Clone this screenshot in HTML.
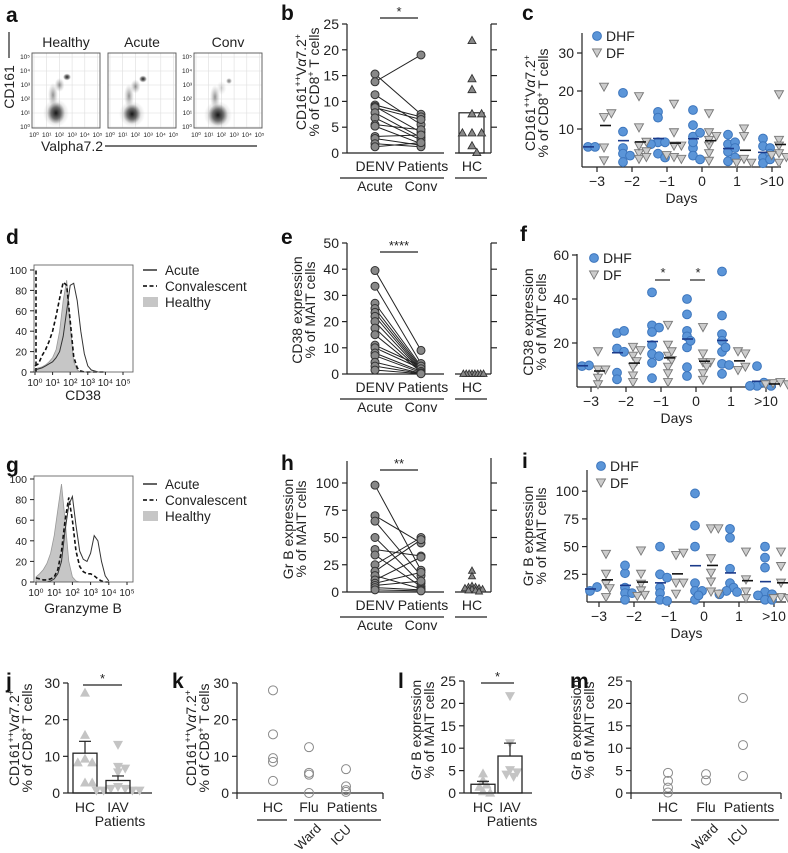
<!DOCTYPE html>
<html><head><meta charset="utf-8">
<style>
body{margin:0;background:#fff}
svg{display:block;font-family:"Liberation Sans",Arial,sans-serif}
</style></head>
<body>
<svg id="fig" width="788" height="853" viewBox="0 0 788 853">
<defs>
<radialGradient id="blob"><stop offset="0" stop-color="#111" stop-opacity="0.95"/><stop offset="0.55" stop-color="#333" stop-opacity="0.6"/><stop offset="1" stop-color="#666" stop-opacity="0"/></radialGradient>
<radialGradient id="blobL"><stop offset="0" stop-color="#444" stop-opacity="0.6"/><stop offset="1" stop-color="#888" stop-opacity="0"/></radialGradient>
</defs>
</svg>
<script>
// ---------- DATA ----------
const bAcute = [15.3,13.8,11.3,9.3,9,8.8,7.8,6.8,5.5,5.2,3.2,2.8,1.8,1.2];
const bConv  = [7.5,19,5.5,7,4,6.5,3,2.5,4.5,1.8,3.5,1.5,1.2,2];
const bHC    = [21.9,14.5,12.4,7.7,7.7,4,4,4,1.5,0.2];
const bTicks = [0,5,10,15,20,25];
const eAcute = [39.5,33.5,27,25,23.5,22,20,17.5,15,11,10,8,7,4.5,3,1.5];
const eConv  = [9,4,3,2.5,2,1.5,1.2,1,0.8,3,2,1,0.5,0.3,0.2,0.1];
const eHC    = [0.3,0.3,0.3,0.3,0.3,0.3,0.3,0.3];
const eTicks = [0,10,20,30,40,50];
const hAcute = [98,70,65,50,39,34,25,19,15,11,8,6,4,2];
const hConv  = [20,45,15,8,33,5,50,48,3,32,18,10,2,1];
const hHC    = [20,15,6,5,5,4,4,3,3,2,2,1];
const hTicks = [0,25,50,75,100];
const dayLabels = ["\u22123","\u22122","\u22121","0","1",">10"];
const cDHF = [[5.3,5.3],[19.5,9.3,5,3.5,1.3,3],[14.5,13,6.5,6.5,6,3.5,2.5],[15,11,8,9,5,3,2,6.5],[8.5,6,6.5,4,1.5,2.5,5],[7.5,5.5,5,2.5,1,3.5,2]];
const cDF  = [[21,13,14,5,1.6],[18.5,10.3,3.5,5.5,4,2,2.5,6.5],[16.5,9,5.5,5.5,2.5,2,3],[14,9,8,5.5,3.5,1.5,7],[10,8,2,1,1],[19,7,5.5,3.5,2.5,3,1]];
const cTicks = [10,20,30];
const fDHF = [[9.5,9.8],[24.5,25.5,17.5,16,6.5,3.5],[43,28,27,25,19,15,11,14,4],[40,33,25.5,23,18,5,9,21],[52.5,32.5,24,21,16,10.5,10,6,18],[9.5,0.5,2,0.5,0.5]];
const fDF  = [[16,7.7,7.7,4,1],[18,16.5,14,11.5,9,5,2],[28,19,14,12,9,6,2,16],[27,15,11,11,9,6,3],[16,15,7.5,9],[1.5,2,1,1]];
const fTicks = [20,40,60];
const iDHF = [[10,13.5],[26,33,13,8,8,2],[50,25,22,13,8,2,1],[98,69,50,17,10,10,2,6],[66,58,30,17,13,10,9,7],[50,40,31,9,7,6,2,2]];
const iDF  = [[25,43,4,16,12],[46,25,16,10,6,5],[42,44,17,17,7],[66,66,39,26,18,9,7],[45,20,9,3],[45,32,17,4,3,3]];
const iTicks = [25,50,75,100];
const dHealthy = [3,4,5,7,10,14,22,40,70,90,45,10,2,0,0,0,0,0,0,0,0];
const dConv    = [6,8,16,22,30,40,55,72,88,85,50,15,4,1,0,0,0,0,0,0,0];
const dAcute   = [2,3,4,6,8,10,14,20,35,60,85,87,70,40,18,6,2,1,0,0,0];
const gHealthy = [5,8,12,18,28,45,70,95,60,20,5,1,0,0,0,0,0,0,0,0,0];
const gConv    = [4,3,2,2,3,5,12,30,60,82,60,30,15,10,8,8,6,3,1,0,0];
const gAcute   = [0,0,0,0,1,3,8,20,50,75,83,55,30,22,20,28,45,40,20,6,1];
const histTicks = [0,20,40,60,80,100];
const jHC  = [27.5,16,9.5,8.5,8.5,3,3];
const jIAV = [13,7,6.5,5.5,1.5,1,1,0.5,0.5,0.5,0.5];
const kHC = [28,16,9.5,8.5,3.3];
const kWard = [12.5,5.5,5,0];
const kICU = [6.5,1.8,0.8,0.3];
const jTicks = [0,10,20,30];
const lHC  = [4.5,3,2,1.5,0.5,0.2];
const lIAV = [21.5,11,5,4.5,4,3.5];
const mHC = [4.5,2.7,1.2,0.1];
const mWard = [4.2,2.8];
const mICU = [21.2,10.7,3.8];
const lTicks = [0,5,10,15,20,25];

// ---------- HELPERS ----------
const NS='http://www.w3.org/2000/svg';
const svg=document.getElementById('fig');
function mk(tag,attrs,parent){const e=document.createElementNS(NS,tag);for(const k in attrs)e.setAttribute(k,attrs[k]);(parent||svg).appendChild(e);return e;}
function G(name){const g=mk('g',{});


return g;}
function T(p,x,y,s,o){o=o||{};const e=mk('text',{x:x,y:y,'font-size':o.fs||14,'text-anchor':o.a||'middle',fill:o.fill||'#222'},p);
if(o.rot)e.setAttribute('transform','rotate('+o.rot+' '+x+' '+y+')');
if(o.bold)e.setAttribute('font-weight','bold');
e.innerHTML=s;


return e;}
function L(p,x1,y1,x2,y2,o){o=o||{};const e=mk('line',{x1:x1,y1:y1,x2:x2,y2:y2,stroke:o.c||'#222','stroke-width':o.w||1.2},p);
if(o.dash)e.setAttribute('stroke-dasharray',o.dash);


return e;}
function tri(p,x,y,s,up,fill,stroke,name){const h=s*0.9;const d=up?`M${x-s/2},${y+h/2}L${x+s/2},${y+h/2}L${x},${y-h/2}Z`:`M${x-s/2},${y-h/2}L${x+s/2},${y-h/2}L${x},${y+h/2}Z`;
const e=mk('path',{d:d,fill:fill,stroke:stroke||'none','stroke-width':0.9},p);


return e;}
function dot(p,x,y,r,fill,stroke,name){const e=mk('circle',{cx:x,cy:y,r:r,fill:fill,stroke:stroke,'stroke-width':1},p);


return e;}
function swarm(cx,ys,r){const placed=[];const step=r*0.8;return ys.map(y=>{for(let s=0;s<30;s++){const off=s===0?0:(s%2?1:-1)*Math.ceil(s/2)*step;const x=cx+off;if(placed.every(q=>Math.hypot(q[0]-x,q[1]-y)>=r*1.2)){placed.push([x,y]);return x;}}placed.push([cx,y]);return cx;});}
const sup=s=>`<tspan baseline-shift="super" font-size="9">${s}</tspan>`;
const titleMAIT1='CD161'+sup('++')+'V<tspan font-style="italic">α</tspan>7.2'+sup('+');
const titleMAIT2='% of CD8'+sup('+')+' T cells';
function yAxis(p,ax,y0,k,ticks,top,labels){L(p,ax,y0,ax,top,{name:'y-axis'});ticks.forEach(t=>{const y=y0-t*k;L(p,ax-5,y,ax,y,{name:'y-tick'});if(labels!==false)T(p,ax-8,y+5,String(t),{a:'end',fs:14,name:'y-tick-label'});});}
function mean(a){return a.reduce((s,v)=>s+v,0)/a.length;}
function sem(a){const m=mean(a);return Math.sqrt(a.reduce((s,v)=>s+(v-m)*(v-m),0)/(a.length-1))/Math.sqrt(a.length);}

[['a',6,22],['b',281,20],['c',522,20],['d',6,244],['e',281,244],['f',520,241],['g',6,472],['h',281,470],['i',522,468],['j',6,688],['k',172,688],['l',398,688],['m',570,688]].forEach(l=>{const g=G('panel-letter-'+l[0]);T(g,l[1],l[2],l[0],{a:'start',fs:21,bold:true,fill:'#111',name:'panel-letter'});});

// ---------- PANEL A ----------
(function(){const g=G('panel-a-flow');
const boxes=[{x:32,t:'Healthy',lab:true,main:[56,113,9,11],mait:[67,77,4,3.5],sub:1},{x:108,t:'Acute',lab:false,main:[132,114,9,10],mait:[143,79,4,3.5],sub:1},{x:194,t:'Conv',lab:true,main:[218,115,10,11],mait:[229,81,3,3],sub:0.4}];
const sups=['⁰','¹','²','³','⁴','⁵'];
boxes.forEach(b=>{const w=68,top=53,bot=128;
for(let i=0;i<=5;i++){const gx=b.x+2+i*12.7;L(g,gx,top,gx,bot,{c:'#ddd',w:0.6,name:'grid-line'});const gy=127-i*14;L(g,b.x,gy,b.x+w,gy,{c:'#ddd',w:0.6,name:'grid-line'});
T(g,gx,137,'10'+sups[i],{fs:6.5,name:'x-tick-label'});if(b.lab)T(g,b.x-2,gy+2,'10'+sups[i],{fs:6.5,a:'end',name:'y-tick-label'});}
const r=mk('rect',{x:b.x,y:top,width:w,height:bot-top,fill:'none',stroke:'#555','stroke-width':0.9},g);


T(g,b.x+w/2,47,b.t,{fs:14,name:'flow-plot-title'});
const e1=mk('ellipse',{cx:b.main[0]-3,cy:b.main[1]-18,rx:5,ry:12,fill:'url(#blobL)'},g);


const e2=mk('ellipse',{cx:b.main[0],cy:b.main[1],rx:b.main[2]+4,ry:b.main[3]+3,fill:'url(#blobL)'},g);


const e3=mk('ellipse',{cx:b.main[0],cy:b.main[1],rx:b.main[2],ry:b.main[3],fill:'url(#blob)'},g);


const e4=mk('ellipse',{cx:(b.main[0]+b.mait[0])/2-2,cy:(b.main[1]-20+b.mait[1])/2,rx:5,ry:7,fill:'url(#blobL)',opacity:b.sub},g);


const e5=mk('ellipse',{cx:b.mait[0],cy:b.mait[1],rx:b.mait[2],ry:b.mait[3],fill:'url(#blob)',opacity:b.sub+0.2},g);

});
T(g,14,87,'CD161',{rot:-90,fs:14,name:'y-axis-title'});
L(g,9,32,9,58,{name:'y-axis-bar'});
T(g,72,151,'Valpha7.2',{fs:14,name:'x-axis-title'});
L(g,105,146,257,146,{name:'x-axis-bar'});})();

// ---------- PAIRED PANELS ----------
function paired(cfg){const g=G(cfg.name);const ax=347,xD=375,xP=421,xH=472,y0=cfg.y0,k=cfg.k;const Y=v=>y0-v*k;
yAxis(g,ax,y0,k,cfg.ticks,cfg.top);
L(g,ax,y0,444,y0,{name:'x-axis'});
L(g,455,y0,491,y0,{name:'hc-x-axis'});
L(g,491,y0,491,cfg.rtop,{name:'right-axis'});
cfg.ticks.forEach(t=>{if(Y(t)>=cfg.rtop-1&&t>0)L(g,491,Y(t),497,Y(t),{name:'right-tick'});});
if(cfg.bar){const r=mk('rect',{x:459,y:Y(mean(cfg.hc)),width:25,height:y0-Y(mean(cfg.hc)),fill:'none',stroke:'#222','stroke-width':1.2},g);

}
cfg.acute.forEach((v,i)=>{L(g,xD,Y(v),xP,Y(cfg.conv[i]),{w:1,name:'pair-line'});});
cfg.acute.forEach(v=>dot(g,xD,Y(v),4,'#888','#333','acute-point'));
cfg.conv.forEach(v=>dot(g,xP,Y(v),4,'#888','#333','conv-point'));
const hy=cfg.hc.map(Y);const hx=swarm(xH,hy,cfg.hcs||7);
hy.forEach((y,i)=>tri(g,hx[i],y,cfg.hcSize||8,true,'#888','#333','hc-point'));
L(g,380,cfg.sigY,418,cfg.sigY,{name:'significance-bar'});
T(g,399,cfg.sigY-2,cfg.stars,{fs:13,name:'significance-stars'});
const ly=y0+18;
T(g,xD,ly,'DENV',{name:'x-label'});T(g,xP+2,ly,'Patients',{name:'x-label'});T(g,xH,ly,'HC',{name:'x-label'});
L(g,340,ly+7,444,ly+7,{name:'group-bar'});L(g,455,ly+7,487,ly+7,{name:'group-bar'});
T(g,xD,ly+20,'Acute',{name:'group-label'});T(g,xP,ly+20,'Conv',{name:'group-label'});
T(g,cfg.tx,cfg.ty,cfg.t1,{rot:-90,fs:14,name:'y-axis-title'});
T(g,cfg.tx+13,cfg.ty,cfg.t2,{rot:-90,fs:14,name:'y-axis-title'});}
paired({name:'panel-b',y0:153,k:5.16,ticks:bTicks,top:24,rtop:24,acute:bAcute,conv:bConv,hc:bHC,bar:true,hcs:6,sigY:18,stars:'*',tx:306,ty:82,t1:titleMAIT1,t2:titleMAIT2});
paired({name:'panel-e',y0:374,k:2.62,ticks:eTicks,top:243,rtop:243,acute:eAcute,conv:eConv,hc:eHC,bar:false,hcs:1.8,hcSize:7,sigY:252,stars:'****',tx:302,ty:310,t1:'CD38 expression',t2:'% of MAIT cells'});
paired({name:'panel-h',y0:592,k:1.09,ticks:hTicks,top:461,rtop:458,acute:hAcute,conv:hConv,hc:hHC,bar:false,hcs:2.2,hcSize:7,sigY:470,stars:'**',tx:293,ty:529,t1:'Gr B expression',t2:'% of MAIT cells'});

// ---------- DAY PANELS ----------
function days(cfg){const g=G(cfg.name);const ax=cfg.ax,y0=cfg.y0,k=cfg.k;const Y=v=>y0-v*k;const X=i=>cfg.x0+i*35;
yAxis(g,ax,y0,k,cfg.ticks,cfg.top);
L(g,ax,y0,cfg.xend,y0,{name:'x-axis'});
dayLabels.forEach((d,i)=>{L(g,X(i),y0,X(i),y0+5,{name:'x-tick'});T(g,X(i),y0+19,d,{name:'x-tick-label'});});
T(g,(ax+cfg.xend)/2,y0+36,'Days',{name:'x-axis-title'});
cfg.dhf.forEach((vals,i)=>{const ys=vals.map(Y);const xs=swarm(X(i)-9,ys,4.4);ys.forEach((y,j)=>dot(g,xs[j],y,4.4,'#5b95d8','#3d76bd','dhf-point'));
L(g,X(i)-14,Y(mean(vals)),X(i)-3,Y(mean(vals)),{c:'#1b3a8a',w:1.6,name:'dhf-mean'});});
cfg.df.forEach((vals,i)=>{const ys=vals.map(Y);const xs=swarm(X(i)+7,ys,4.6);ys.forEach((y,j)=>tri(g,xs[j],y,9,false,'#ccc','#777','df-point'));
L(g,X(i)+3,Y(mean(vals)),X(i)+14,Y(mean(vals)),{c:'#111',w:1.6,name:'df-mean'});});
dot(g,cfg.lx,cfg.ly,4.4,'#5b95d8','#3d76bd','legend-dhf-marker');T(g,cfg.lx+9,cfg.ly+5,'DHF',{a:'start',name:'legend-dhf'});
tri(g,cfg.lx,cfg.ly+17,9,false,'#ccc','#777','legend-df-marker');T(g,cfg.lx+9,cfg.ly+22,'DF',{a:'start',name:'legend-df'});
(cfg.sig||[]).forEach(i=>{L(g,X(i)-6,cfg.sigY,X(i)+9,cfg.sigY,{name:'significance-bar'});T(g,X(i)+2,cfg.sigY-3,'*',{fs:13,name:'significance-star'});});
T(g,cfg.tx,cfg.ty,cfg.t1,{rot:-90,fs:14,name:'y-axis-title'});
T(g,cfg.tx+13,cfg.ty,cfg.t2,{rot:-90,fs:14,name:'y-axis-title'});}
days({name:'panel-c',ax:582,y0:167,k:3.8,ticks:cTicks,top:33,xend:781,x0:597,dhf:cDHF,df:cDF,lx:597,ly:36,tx:535,ty:103,t1:titleMAIT1,t2:titleMAIT2});
days({name:'panel-f',ax:577,y0:387,k:2.2,ticks:fTicks,top:254,xend:776,x0:591,dhf:fDHF,df:fDF,lx:594,ly:258,sig:[2,3],sigY:280,tx:533,ty:322,t1:'CD38 expression',t2:'% of MAIT cells'});
days({name:'panel-i',ax:587,y0:602,k:1.108,ticks:iTicks,top:470,xend:786,x0:599,dhf:iDHF,df:iDF,lx:601,ly:466,tx:533,ty:536,t1:'Gr B expression',t2:'% of MAIT cells'});

// ---------- HISTOGRAMS ----------
function hist(cfg){const g=G(cfg.name);const x0=cfg.x0,dec=cfg.dec,y0=cfg.y0,k=cfg.k;const X=i=>x0+i*0.2*dec;const Y=v=>y0-v*k;
const path=a=>a.map((v,i)=>(i?'L':'M')+X(i).toFixed(1)+','+Y(v).toFixed(1)).join('');
const f=mk('path',{d:path(cfg.healthy)+`L${X(cfg.healthy.length-1)},${y0}L${X(0)},${y0}Z`,fill:'#c6c6c6',stroke:'#999','stroke-width':0.8},g);


const c=mk('path',{d:path(cfg.conv),fill:'none',stroke:'#111','stroke-width':1.6,'stroke-dasharray':'4,2.5'},g);


if(cfg.spike)L(g,x0+1,y0,x0+1,Y(cfg.spike),{w:1.6,dash:'4,2.5',c:'#111',name:'convalescent-edge-spike'});
const a=mk('path',{d:path(cfg.acute),fill:'none',stroke:'#333','stroke-width':1},g);


const r=mk('rect',{x:34,y:cfg.top,width:99,height:y0-cfg.top,fill:'none',stroke:'#666','stroke-width':0.9},g);


histTicks.forEach(t=>{L(g,30,Y(t),34,Y(t),{w:1,name:'y-tick'});T(g,27,Y(t)+4,String(t),{a:'end',fs:10.5,name:'y-tick-label'});});
const sups=['⁰','¹','²','³','⁴','⁵'];
sups.forEach((s,i)=>{const x=x0+i*dec;L(g,x,y0,x,y0+3,{w:1,name:'x-tick'});T(g,x,y0+14,'10'+s,{fs:10,name:'x-tick-label'});});
T(g,83,y0+cfg.tyoff,cfg.title,{fs:14,name:'x-axis-title'});
const ly=cfg.ly;
L(g,143,ly,157,ly,{w:1.4,name:'legend-acute-line'});T(g,165,ly+5,'Acute',{a:'start',fs:13.5,name:'legend-acute'});
L(g,143,ly+16,157,ly+16,{w:1.8,dash:'4,2.5',name:'legend-conv-line'});T(g,165,ly+21,'Convalescent',{a:'start',fs:13.5,name:'legend-convalescent'});
const sw=mk('rect',{x:143,y:ly+27,width:15,height:10,fill:'#c6c6c6'},g);


T(g,165,ly+37,'Healthy',{a:'start',fs:13.5,name:'legend-healthy'});}
hist({name:'panel-d',x0:35,dec:17.6,y0:372,k:1.02,top:265,healthy:dHealthy,conv:dConv,acute:dAcute,spike:100,title:'CD38',tyoff:28,ly:270});
hist({name:'panel-g',x0:36,dec:18.2,y0:582,k:1.03,top:476,healthy:gHealthy,conv:gConv,acute:gAcute,title:'Granzyme B',tyoff:31,ly:484});

// ---------- BAR PANELS ----------
function bars(cfg){const g=G(cfg.name);const ax=cfg.ax,y0=793,k=cfg.k;const Y=v=>y0-v*k;
yAxis(g,ax,y0,k,cfg.ticks,Y(cfg.ticks[cfg.ticks.length-1]));
L(g,ax,y0,cfg.xend,y0,{name:'x-axis'});
[[cfg.hc,cfg.x1,true,'hc'],[cfg.iav,cfg.x2,false,'iav']].forEach(s=>{const m=mean(s[0]),e=sem(s[0]);
const ys=s[0].map(Y);const xs=swarm(s[1],ys,4.5);ys.forEach((y,j)=>tri(g,xs[j],y,10,s[2],'#c4c4c4',null,s[3]+'-point'));
const r=mk('rect',{x:s[1]-12,y:Y(m),width:24,height:y0-Y(m),fill:'none',stroke:'#222','stroke-width':1.3},g);


L(g,s[1],Y(m),s[1],Y(m+e),{name:'error-bar'});L(g,s[1]-6,Y(m+e),s[1]+6,Y(m+e),{name:'error-cap'});
T(g,s[1],812,s[3]==='hc'?'HC':'IAV',{name:'x-label'});});
T(g,cfg.x2+2,826,'Patients',{name:'x-label'});
L(g,cfg.x1-2,cfg.sigY,cfg.x2+4,cfg.sigY,{name:'significance-bar'});T(g,(cfg.x1+cfg.x2)/2+1,cfg.sigY-2,'*',{fs:13,name:'significance-star'});
T(g,cfg.tx,cfg.ty,cfg.t1,{rot:-90,fs:14,name:'y-axis-title'});
T(g,cfg.tx+13,cfg.ty,cfg.t2,{rot:-90,fs:14,name:'y-axis-title'});}
bars({name:'panel-j',ax:68,k:3.667,ticks:jTicks,xend:152,x1:85,x2:118,hc:jHC,iav:jIAV,sigY:685,tx:19,ty:738,t1:titleMAIT1,t2:titleMAIT2});
bars({name:'panel-l',ax:464,k:4.48,ticks:lTicks,xend:532,x1:483,x2:510,hc:lHC,iav:lIAV,sigY:683,tx:421,ty:730,t1:'Gr B expression',t2:'% of MAIT cells'});

// ---------- FLU PANELS ----------
function flu(cfg){const g=G(cfg.name);const ax=cfg.ax,y0=793,k=cfg.k;const Y=v=>y0-v*k;
yAxis(g,ax,y0,k,cfg.ticks,Y(cfg.ticks[cfg.ticks.length-1]));
L(g,ax,y0,cfg.xend,y0,{name:'x-axis'});L(g,cfg.xend,y0,cfg.xend,y0+6,{name:'x-tick'});L(g,ax,y0,ax,y0+6,{name:'x-tick'});
[[cfg.hc,cfg.xs[0],'hc-point'],[cfg.ward,cfg.xs[1],'ward-point'],[cfg.icu,cfg.xs[2],'icu-point']].forEach(s=>{s[0].forEach(v=>dot(g,s[1],Y(v),4.5,'none','#8a8a8a',s[2]));});
T(g,cfg.xs[0],812,'HC',{name:'x-label'});T(g,cfg.xs[1],812,'Flu',{name:'x-label'});T(g,cfg.xs[2]+6,812,'Patients',{name:'x-label'});
L(g,cfg.xs[0]-16,820,cfg.xs[0]+14,820,{name:'group-bar'});L(g,cfg.xs[1]-15,820,cfg.xend-2,820,{name:'group-bar'});
T(g,cfg.xs[1]+2,840,'Ward',{rot:-45,fs:13,name:'ward-label'});T(g,cfg.xs[2]-2,838,'ICU',{rot:-45,fs:13,name:'icu-label'});
T(g,cfg.tx,cfg.ty,cfg.t1,{rot:-90,fs:14,name:'y-axis-title'});
T(g,cfg.tx+13,cfg.ty,cfg.t2,{rot:-90,fs:14,name:'y-axis-title'});}
flu({name:'panel-k',ax:237,k:3.667,ticks:jTicks,xend:383,xs:[273,309,346],hc:kHC,ward:kWard,icu:kICU,tx:196,ty:738,t1:titleMAIT1,t2:titleMAIT2});
flu({name:'panel-m',ax:631,k:4.48,ticks:lTicks,xend:781,xs:[668,706,743],hc:mHC,ward:mWard,icu:mICU,tx:581,ty:730,t1:'Gr B expression',t2:'% of MAIT cells'});
</script>
</body></html>
